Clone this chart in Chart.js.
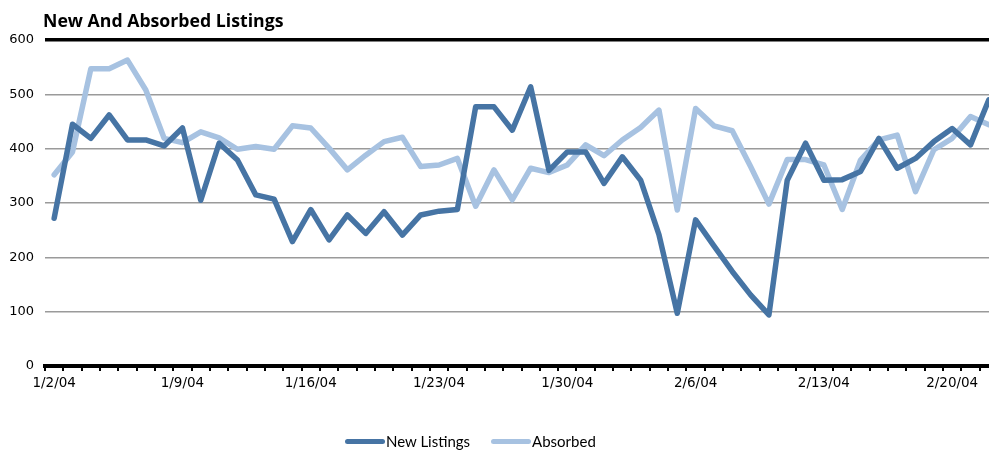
<!DOCTYPE html>
<html>
<head>
<meta charset="utf-8">
<script src="https://cdn.jsdelivr.net/npm/chart.js@4/dist/chart.umd.min.js"></script>
<style>
    html, body { margin: 0; padding: 0; background: #fff; overflow: hidden; }
    #wrap { position: relative; width: 989px; height: 451px; overflow: hidden; }
    #chart-title {
        position: absolute; left: 43px; top: 8px; line-height: 24px;
        font: bold 17.7px "Open Sans", sans-serif; color: #000; margin: 0;
    }
    #legend {
        position: absolute; left: 345px; top: 432px; height: 18px;
        display: flex; align-items: center;
        font: 15px Lato, sans-serif; color: #000; white-space: nowrap; line-height: 18px;
    }
    .leg-item { display: flex; align-items: center; margin-right: 21px; }
    .leg-line { display: inline-block; width: 40px; height: 5px; border-radius: 3px; margin-right: 1px; }
    #canvas-box { position: absolute; left: 0; top: 0; width: 1000px; height: 451px; }
</style>
</head>
<body>
<div id="wrap">
    <div id="canvas-box"><canvas id="listingsChart" width="1000" height="451"></canvas></div>
    <div id="chart-title">New And Absorbed Listings</div>
    <div id="legend"></div>
</div>
<script>
// daily dates 1/2/04 .. 2/22/04
const dates = [
    '1/2/04','1/3/04','1/4/04','1/5/04','1/6/04','1/7/04','1/8/04',
    '1/9/04','1/10/04','1/11/04','1/12/04','1/13/04','1/14/04','1/15/04',
    '1/16/04','1/17/04','1/18/04','1/19/04','1/20/04','1/21/04','1/22/04',
    '1/23/04','1/24/04','1/25/04','1/26/04','1/27/04','1/28/04','1/29/04',
    '1/30/04','1/31/04','2/1/04','2/2/04','2/3/04','2/4/04','2/5/04',
    '2/6/04','2/7/04','2/8/04','2/9/04','2/10/04','2/11/04','2/12/04',
    '2/13/04','2/14/04','2/15/04','2/16/04','2/17/04','2/18/04','2/19/04',
    '2/20/04','2/21/04','2/22/04'
];

const newListings = [
    272, 445, 419, 462, 416, 416, 405, 438, 305, 410, 379, 315, 307, 229,
    288, 232, 278, 244, 284, 241, 278, 285, 288, 477, 477, 434, 514, 360,
    394, 394, 336, 385, 342, 242, 97, 269, 221, 174, 131, 94, 342, 410,
    342, 343, 358, 419, 364, 382, 413, 437, 407, 490
];

const absorbed = [
    352, 394, 547, 547, 563, 508, 419, 411, 431, 420, 399, 404, 399, 442,
    438, 401, 361, 388, 413, 421, 367, 370, 382, 294, 361, 306, 364, 356,
    370, 407, 387, 416, 439, 471, 287, 474, 442, 433, 367, 298, 380, 380,
    370, 288, 379, 416, 425, 321, 398, 419, 459, 444
];

const yTicks = [0, 100, 200, 300, 400, 500, 600];

const seriesNames = ['New Listings', 'Absorbed'];
const seriesColors = ['#4674a4', '#a7c2e1'];

// legende en HTML (position plus libre)
const legend = document.getElementById('legend');
seriesNames.forEach((name, i) => {
    const item = document.createElement('span');
    item.className = 'leg-item';
    item.innerHTML = `<span class="leg-line" style="background:${seriesColors[i]}"></span>${name}`;
    legend.appendChild(item);
});

const ctx = document.getElementById('listingsChart').getContext('2d');
new Chart(ctx, {
    type: 'line',
    data: {
        labels: dates,
        datasets: [
            {
                label: seriesNames[0], data: newListings,
                borderColor: seriesColors[0], borderWidth: 5.5,
                pointRadius: 0, tension: 0,
                borderCapStyle: 'round', borderJoinStyle: 'round'
            },
            {
                label: seriesNames[1], data: absorbed,
                borderColor: seriesColors[1], borderWidth: 5.5,
                pointRadius: 0, tension: 0,
                borderCapStyle: 'round', borderJoinStyle: 'round'
            }
        ]
    },
    options: {
        responsive: false,
        animation: false,
        layout: { padding: { top: 40, right: 2, left: 0, bottom: 0 } },
        plugins: { legend: { display: false }, title: { display: false }, tooltip: { enabled: false } },
        scales: {
            x: {
                type: 'category',
                offset: true,
                afterFit: s => { s.height = 85; },
                border: { display: true, color: '#000', width: 4 },
                grid: {
                    offset: true, drawOnChartArea: false, drawTicks: true,
                    tickLength: 5, color: '#000', lineWidth: 2
                },
                ticks: {
                    autoSkip: false, maxRotation: 0, minRotation: 0, padding: 4,
                    color: '#000',
                    font: { family: 'DejaVu Sans', size: 13.5 },
                    callback: (v, i) => (i % 7 === 0 ? dates[i] : '')
                }
            },
            y: {
                min: 0, max: 600,
                afterFit: s => { s.width = 45; },
                afterBuildTicks: s => { s.ticks = yTicks.map(v => ({ value: v })); },
                border: { display: false },
                grid: {
                    drawTicks: false,
                    color: c => (c.tick.value === 600 || c.tick.value === 0 ? '#000' : '#9a9a9a'),
                    lineWidth: c => (c.tick.value === 600 ? 3.5 : 1.5)
                },
                ticks: {
                    padding: 11, color: '#000',
                    font: { family: 'DejaVu Sans', size: 13 }
                }
            }
        }
    }
});
</script>
</body>
</html>
